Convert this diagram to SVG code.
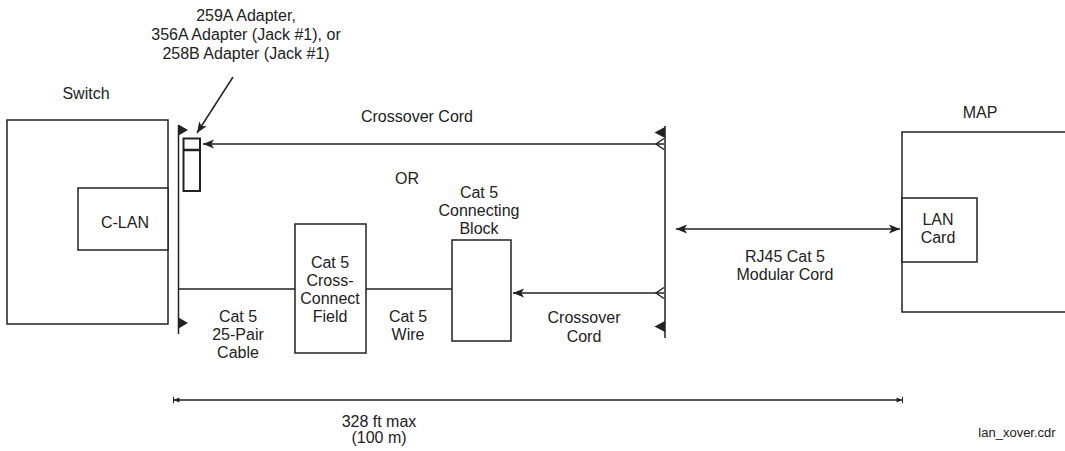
<svg xmlns="http://www.w3.org/2000/svg" width="1065" height="451" viewBox="0 0 1065 451">
<style>
text{font-family:"Liberation Sans",Arial,sans-serif;font-size:16px;fill:#222;text-anchor:middle}
.box{fill:#fff;stroke:#222;stroke-width:1.5}
.ln{fill:none;stroke:#222;stroke-width:1.5}
.tri{fill:#222;stroke:none}
</style>
<defs>
<marker id="ah" viewBox="0 0 10 10" refX="10" refY="5" markerWidth="11" markerHeight="11" markerUnits="userSpaceOnUse" orient="auto"><path d="M0,1 L10,5 L0,9 L2.5,5 Z" fill="#222"/></marker>
<marker id="ahs" viewBox="0 0 10 10" refX="10" refY="5" markerWidth="11" markerHeight="11" markerUnits="userSpaceOnUse" orient="auto-start-reverse"><path d="M0,1 L10,5 L0,9 L2.5,5 Z" fill="#222"/></marker>
<marker id="dim" viewBox="0 0 10 10" refX="10" refY="5" markerWidth="8" markerHeight="8" markerUnits="userSpaceOnUse" orient="auto-start-reverse"><path d="M2,2 L9,5 L2,8 Z" fill="#222"/><path d="M9.5,1 L9.5,9" stroke="#222" stroke-width="1.5"/></marker>
</defs>

<g id="switch">
<rect class="box" x="7" y="120" width="161" height="204"/>
<text x="86" y="99">Switch</text>
</g>
<g id="clan">
<rect class="box" x="78" y="188" width="90" height="62"/>
<text x="125" y="228">C-LAN</text>
</g>
<g id="adapter">
<rect x="183.5" y="138.5" width="16.5" height="52.5" fill="#fff" stroke="#222" stroke-width="2"/>
<line x1="183.5" y1="150" x2="200" y2="150" stroke="#222" stroke-width="2.5"/>
<text x="246" y="21">259A Adapter,</text>
<text x="246" y="40">356A  Adapter (Jack #1), or</text>
<text x="246" y="59">258B Adapter (Jack #1)</text>
</g>
<g id="crossconnect">
<rect class="box" x="295" y="224" width="71" height="129"/>
<text x="330" y="268">Cat 5</text>
<text x="330" y="286">Cross-</text>
<text x="330" y="304">Connect</text>
<text x="330" y="322">Field</text>
</g>
<g id="block">
<rect class="box" x="452" y="240" width="59" height="101"/>
<text x="479" y="198">Cat 5</text>
<text x="479" y="216">Connecting</text>
<text x="479" y="234">Block</text>
</g>
<g id="map">
<rect class="box" x="902" y="132" width="170" height="180"/>
<text x="980" y="118">MAP</text>
</g>
<g id="lancard">
<rect class="box" x="902" y="198" width="75" height="64"/>
<text x="938" y="225">LAN</text>
<text x="938" y="243">Card</text>
</g>

<g id="connectors">
<line class="ln" x1="178.5" y1="125" x2="178.5" y2="334"/>
<path class="tri" d="M178.5,124.5 L188,130 L178.5,135.5 Z"/>
<path class="tri" d="M178.5,317.5 L188,323 L178.5,328.5 Z"/>
<line class="ln" x1="665" y1="126" x2="665" y2="338"/>
<path class="tri" d="M665,127 L654.5,132.5 L665,138 Z"/>
<path class="tri" d="M665,321 L654.5,326.5 L665,332 Z"/>
<line class="ln" x1="664" y1="144" x2="203" y2="144" marker-end="url(#ah)"/>
<path class="ln" d="M664,138.5 L656,144 L664,149.5"/>
<line class="ln" x1="664" y1="293" x2="513" y2="293" marker-end="url(#ah)"/>
<path class="ln" d="M664,287.5 L656,293 L664,298.5"/>
<line class="ln" x1="178.5" y1="289" x2="295" y2="289"/>
<line class="ln" x1="366" y1="289" x2="452" y2="289"/>
<line class="ln" x1="233" y1="77" x2="197" y2="133" marker-end="url(#ah)"/>
<line class="ln" x1="676" y1="229" x2="900" y2="229" marker-start="url(#ahs)" marker-end="url(#ah)"/>
<line class="ln" x1="173" y1="400" x2="903" y2="400" marker-start="url(#dim)" marker-end="url(#dim)"/>
</g>

<g id="labels">
<text x="417" y="122">Crossover Cord</text>
<text x="407" y="184">OR</text>
<text x="238" y="322">Cat 5</text>
<text x="238" y="340">25-Pair</text>
<text x="238" y="358">Cable</text>
<text x="408" y="322">Cat 5</text>
<text x="408" y="340">Wire</text>
<text x="584" y="323">Crossover</text>
<text x="584" y="342">Cord</text>
<text x="785" y="262">RJ45 Cat 5</text>
<text x="785" y="280">Modular Cord</text>
<text x="379" y="427">328 ft max</text>
<text x="379" y="443">(100 m)</text>
<text x="1017" y="437" style="font-size:13px">lan_xover.cdr</text>
</g>
</svg>
